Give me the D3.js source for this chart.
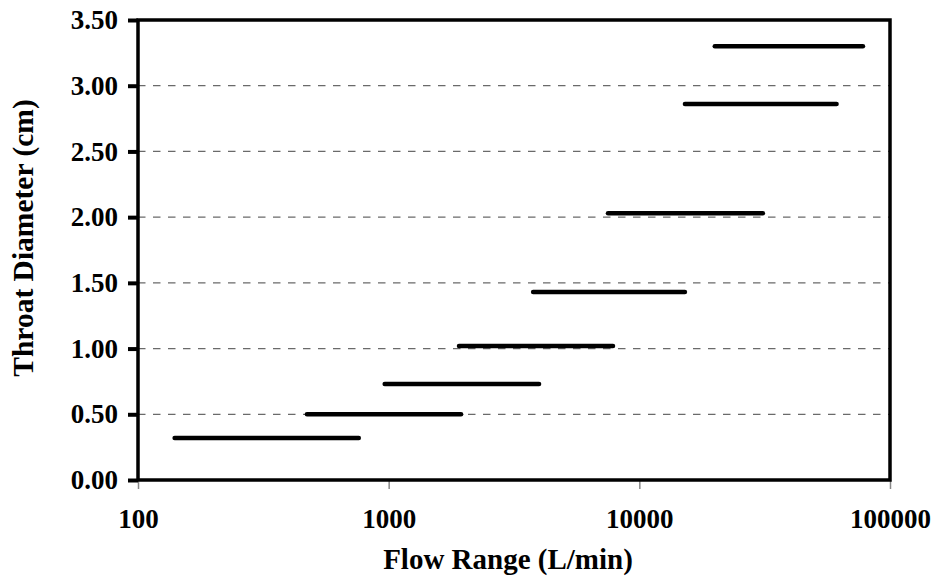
<!DOCTYPE html>
<html>
<head>
<meta charset="utf-8">
<script src="https://cdn.jsdelivr.net/npm/d3@7/dist/d3.min.js"></script>
<style>
  body { margin: 0; background: #fff; }
  text { font-family: "Liberation Serif", "Times New Roman", serif; font-weight: bold; }
</style>
</head>
<body>
<div id="chart"></div>
<script>
// throat diameter (cm) and flow range (L/min) for each size
const diameters = [0.32, 0.50, 0.73, 1.02, 1.43, 2.03, 2.86, 3.30];
const flowMin = [140, 472, 964, 1908, 3770, 7500, 15200, 20000];
const flowMax = [760, 1945, 3980, 7850, 15200, 31100, 61200, 78000];
const xTicks = [100, 1000, 10000, 100000];
const yTicks = [0, 0.5, 1, 1.5, 2, 2.5, 3, 3.5];

const W = 931, H = 578;
const margin = { top: 20, right: 41, bottom: 98, left: 138 };
const width = W - margin.left - margin.right;
const height = H - margin.top - margin.bottom;

const svg = d3.select("#chart").append("svg")
    .attr("width", W).attr("height", H);

const g = svg.append("g")
    .attr("transform", `translate(${margin.left},${margin.top})`);

const x = d3.scaleLog().domain([100, 100000]).range([0, width]);
const y = d3.scaleLinear().domain([0, 3.5]).range([height, 0]);

// dashed gridlines
g.selectAll(".grid")
    .data(yTicks.filter(t => t > 0 && t < 3.5))
    .enter().append("line")
    .attr("x1", 0).attr("x2", width)
    .attr("y1", d => y(d)).attr("y2", d => y(d))
    .attr("stroke", "#6a6a6a")
    .attr("stroke-width", 1.2)
    .attr("stroke-dasharray", "7.5,7.5");

// x axis ticks + labels
const xAxis = g.append("g")
    .attr("transform", `translate(0,${height})`)
    .call(d3.axisBottom(x).tickValues(xTicks).tickFormat(d3.format("d")).tickSize(9).tickSizeOuter(0));
xAxis.select(".domain").remove();
xAxis.selectAll("line").attr("stroke", "#888").attr("stroke-width", 1.5);
xAxis.selectAll("text")
    .attr("y", 29)
    .attr("dy", "0.71em")
    .style("font-size", "27px")
    .attr("fill", "#000");

// y axis ticks + labels
const yAxis = g.append("g")
    .call(d3.axisLeft(y).tickValues(yTicks).tickFormat(d3.format(".2f")).tickSize(10).tickSizeOuter(0));
yAxis.select(".domain").remove();
yAxis.selectAll("line").attr("stroke", "#000").attr("stroke-width", 4);
yAxis.selectAll("text")
    .attr("x", -20)
    .style("font-size", "27px")
    .attr("fill", "#000");

// plot frame
g.append("rect")
    .attr("width", width).attr("height", height)
    .attr("fill", "none")
    .attr("stroke", "#000")
    .attr("stroke-width", 3.5);

// range segments
g.selectAll(".seg")
    .data(diameters)
    .enter().append("line")
    .attr("class", "seg")
    .attr("x1", (d, i) => x(flowMin[i]))
    .attr("x2", (d, i) => x(flowMax[i]))
    .attr("y1", d => y(d))
    .attr("y2", d => y(d))
    .attr("stroke", "#000")
    .attr("stroke-width", 4.5)
    .attr("stroke-linecap", "round");

// axis titles
svg.append("text")
    .attr("x", 508)
    .attr("y", 569)
    .attr("text-anchor", "middle")
    .style("font-size", "29px")
    .text("Flow Range (L/min)");

svg.append("text")
    .attr("transform", "translate(33,238) rotate(-90)")
    .attr("text-anchor", "middle")
    .style("font-size", "29.5px")
    .text("Throat Diameter (cm)");
</script>
</body>
</html>
